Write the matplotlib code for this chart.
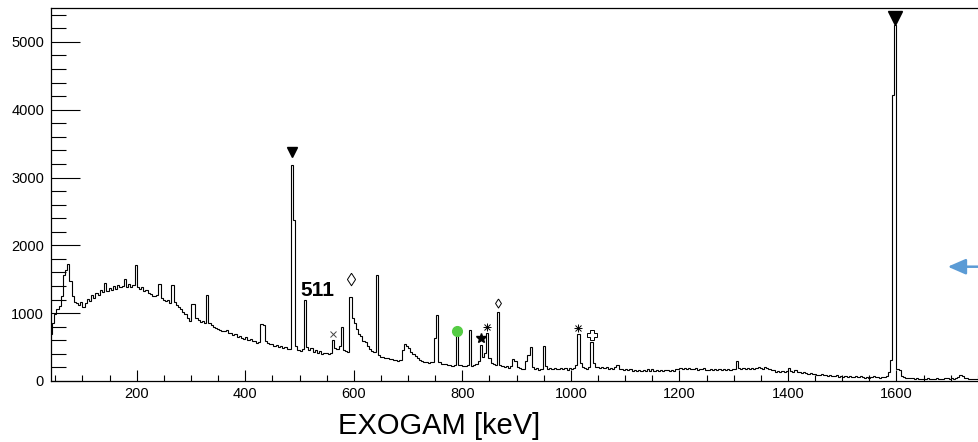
import matplotlib
matplotlib.use("Agg")
import matplotlib.pyplot as plt
import numpy as np
from matplotlib.patches import FancyArrowPatch
from matplotlib.ticker import MultipleLocator

plt.rcParams["font.family"] = ["Liberation Sans", "DejaVu Sans"]

# EXOGAM gamma spectrum, 4 keV bins starting at 40 keV
E_START = 40
BIN_W = 4
counts = [
    700, 850, 990, 1060, 1100, 1250, 1560, 1640, 1720, 1480,      # 40-80
    1260, 1170, 1150, 1120, 1160, 1090, 1150, 1210, 1180, 1270,   # 80-120
    1230, 1300, 1270, 1340, 1310, 1450, 1330, 1370, 1340, 1400,   # 120-160
    1360, 1420, 1380, 1400, 1510, 1390, 1430, 1380, 1420, 1710,   # 160-200
    1390, 1360, 1380, 1330, 1340, 1300, 1290, 1260, 1250, 1270,   # 200-240
    1430, 1220, 1200, 1180, 1200, 1150, 1410, 1170, 1120, 1090,   # 240-280
    1060, 1020, 990, 930, 890, 1130, 1140, 930, 900, 870,         # 280-320
    880, 850, 1270, 850, 820, 800, 780, 770, 750, 740,            # 320-360
    730, 745, 705, 715, 680, 700, 655, 670, 635, 625,             # 360-400
    645, 600, 615, 585, 595, 565, 570, 840, 820, 590,             # 400-440
    565, 545, 550, 520, 530, 505, 515, 485, 495, 465,             # 440-480
    470, 3190, 2380, 520, 450, 440, 470, 1200, 500, 450,          # 480-520
    480, 430, 450, 420, 440, 400, 420, 410, 400, 420,             # 520-560
    600, 480, 470, 520, 800, 460, 440, 430, 1240, 930,            # 560-600
    860, 770, 690, 660, 590, 570, 510, 470, 445, 425,             # 600-640
    1570, 390, 355, 360, 335, 345, 320, 330, 305, 315,            # 640-680
    300, 315, 450, 550, 510, 480, 425, 405, 365, 340,             # 680-720
    310, 295, 275, 285, 265, 275, 285, 640, 980, 280,             # 720-760
    255, 245, 250, 235, 240, 225, 240, 730, 235, 240,             # 760-800
    220, 225, 235, 750, 225, 235, 245, 300, 530, 350,             # 800-840
    420, 710, 340, 270, 250, 240, 1020, 240, 220, 210,            # 840-880
    215, 195, 220, 330, 300, 200, 185, 175, 180, 300,             # 880-920
    380, 500, 200, 170, 185, 165, 180, 510, 220, 180,             # 920-960
    195, 175, 195, 180, 170, 195, 175, 185, 165, 185,             # 960-1000
    180, 190, 230, 690, 260, 200, 190, 180, 200, 570,             # 1000-1040
    260, 200, 210, 190, 205, 185, 200, 180, 195, 175,             # 1040-1080
    200, 240, 180, 170, 160, 175, 155, 170, 145, 165,             # 1080-1120
    150, 165, 145, 160, 150, 170, 145, 170, 150, 165,             # 1120-1160
    150, 165, 145, 155, 165, 145, 165, 150, 175, 180,             # 1160-1200
    195, 175, 190, 180, 195, 175, 170, 185, 165, 180,             # 1200-1240
    170, 185, 165, 160, 175, 155, 170, 160, 175, 160,             # 1240-1280
    170, 160, 175, 155, 180, 170, 290, 190, 180, 195,             # 1280-1320
    180, 195, 175, 190, 180, 195, 200, 185, 180, 205,             # 1320-1360
    190, 175, 160, 155, 140, 150, 130, 145, 130, 150,             # 1360-1400
    190, 150, 140, 155, 130, 140, 120, 135, 115, 110,             # 1400-1440
    115, 100, 110, 95, 90, 105, 85, 95, 80, 90,                   # 1440-1480
    80, 70, 85, 65, 75, 60, 70, 60, 75, 60,                       # 1480-1520
    60, 70, 55, 80, 60, 50, 65, 50, 60, 70,                       # 1520-1560
    60, 65, 50, 60, 55, 70, 140, 310, 4220, 5250,                 # 1560-1600
    180, 160, 80, 60, 50, 40, 45, 40, 35, 40,                     # 1600-1640
    35, 30, 35, 30, 40, 30, 35, 30, 40, 35,                       # 1640-1680
    30, 35, 40, 45, 35, 40, 35, 50, 60, 85,                       # 1680-1720
    80, 50, 40, 35, 30, 35, 30, 30, 25, 30,                       # 1720-1760
]
edges = E_START + BIN_W * np.arange(len(counts) + 1)

# peak tags: energy [keV], kind
tagged_peaks = [
    (486, "tri"), (1598, "tri_big"),
    (562, "cross"), (594, "diamond"), (866, "diamond_s"),
    (790, "dot"), (834, "star"), (846, "aster"),
    (1014, "aster"), (1038, "plus"),
]


def peak_height(energy):
    return counts[int((energy - E_START) // BIN_W)]


fig = plt.figure(figsize=(9.79, 4.42), dpi=100)
# frame runs past the right edge of the canvas
ax = fig.add_axes([51 / 979, 61 / 442, 948.6 / 979, 373 / 442])

ax.stairs(counts, edges, baseline=None, color="black", lw=0.8)

ax.set_xlim(42, 1790)
ax.set_ylim(0, 5500)

ax.xaxis.set_major_locator(MultipleLocator(200))
ax.xaxis.set_minor_locator(MultipleLocator(50))
ax.yaxis.set_major_locator(MultipleLocator(1000))
ax.yaxis.set_minor_locator(MultipleLocator(200))
ax.tick_params(axis="both", which="both", direction="in", top=False, right=False,
               width=0.8, labelsize=10.5, colors="black")
ax.tick_params(axis="y", which="major", length=21, pad=5)
ax.tick_params(axis="y", which="minor", length=11)
ax.tick_params(axis="x", which="major", length=8, pad=4)
ax.tick_params(axis="x", which="minor", length=4)
for side in ("left", "bottom", "top"):
    ax.spines[side].set_linewidth(0.9)
ax.spines["right"].set_visible(False)

diamond = [(0, 1), (0.65, 0), (0, -1), (-0.65, 0), (0, 1)]
for energy, kind in tagged_peaks:
    h = peak_height(energy)
    if kind == "tri":
        ax.plot(energy, h + 190, marker="v", color="black", ms=7, ls="none")
    elif kind == "tri_big":
        ax.plot(energy, h + 100, marker="v", color="black", ms=9.5, ls="none")
    elif kind == "cross":
        ax.plot(energy, h + 100, marker="x", color="#444444", ms=4.5, mew=0.7, ls="none")
    elif kind == "diamond":
        ax.plot(energy, h + 265, marker=diamond, mfc="white", mec="black",
                ms=9, mew=0.7, ls="none")
    elif kind == "diamond_s":
        ax.plot(energy, h + 125, marker=diamond, mfc="white", mec="black",
                ms=6.5, mew=0.7, ls="none")
    elif kind == "dot":
        ax.plot(energy, h, marker="o", color="#55cc44", ms=7, ls="none", zorder=5)
    elif kind == "star":
        ax.plot(energy, h + 100, marker="*", color="black", ms=7, ls="none")
    elif kind == "aster":
        ax.plot(energy, h + 85, marker="+", color="black", ms=6, mew=0.7, ls="none")
        ax.plot(energy, h + 85, marker="x", color="black", ms=4.5, mew=0.7, ls="none")
    elif kind == "plus":
        ax.plot(energy, h + 110, marker="P", mfc="white", mec="black",
                ms=6.5, mew=0.7, ls="none")

ax.text(501, 1250, "511", fontsize=15, fontweight="bold", ha="left", va="baseline")

fig.text(338 / 979, 8 / 442, "EXOGAM [keV]", fontsize=21, ha="left", va="baseline")

arrow = FancyArrowPatch((1.02, 1 - 266.7 / 442), (945 / 979, 1 - 266.7 / 442),
                        transform=fig.transFigure,
                        arrowstyle="-|>,head_length=1.08,head_width=0.47",
                        mutation_scale=10, color="#5b9bd5", lw=1.8)
fig.add_artist(arrow)

fig.savefig("out.png", dpi=100)
